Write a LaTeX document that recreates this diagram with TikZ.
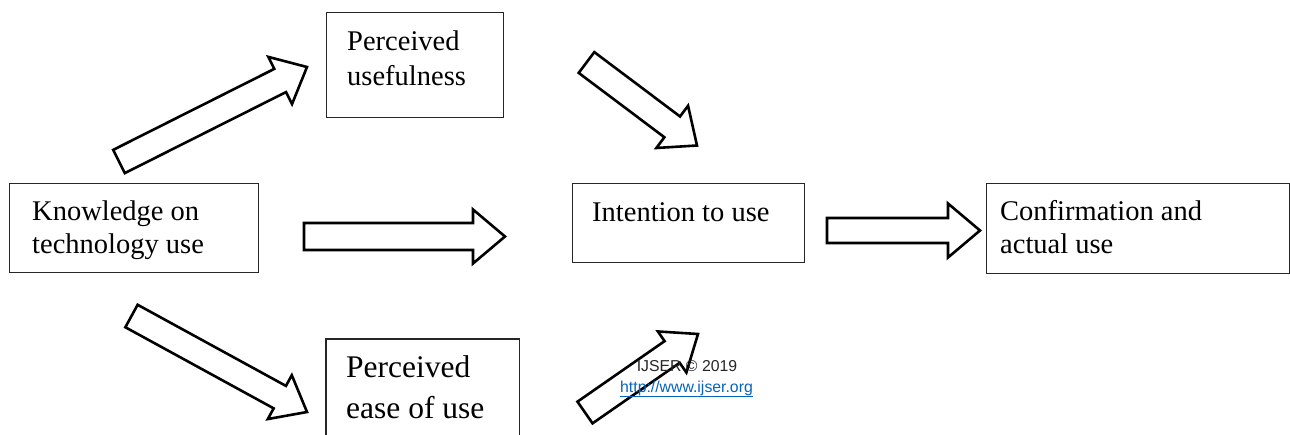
\documentclass[tikz,border=0pt]{standalone}
\usepackage{fontspec}
\setmainfont{Liberation Serif}
\newfontfamily\arialf{Liberation Sans}
\usetikzlibrary{calc}
\definecolor{linkblue}{HTML}{0563C1}
\definecolor{boxline}{HTML}{262626}
\newcommand\blockarr[5]{%
  \draw[barrow] let \p1=(#1), \p2=(#2),
    \n1={atan2(\y2-\y1,\x2-\x1)}, \n2={veclen(\x2-\x1,\y2-\y1)} in
    [shift={(\p1)}, rotate=\n1]
    (0,-#3) -- ({\n2-#5},-#3) -- ({\n2-#5},-#4) -- (\n2,0) --
    ({\n2-#5},#4) -- ({\n2-#5},#3) -- (0,#3) -- cycle;}
\begin{document}
\begin{tikzpicture}[x=1pt,y=-1pt,
  box/.style={draw=boxline, line width=1.4pt, inner sep=0pt, anchor=north west},
  lbl/.style={inner sep=0pt, anchor=base west, font=\fontsize{28.5}{33}\selectfont},
  barrow/.style={draw=black, fill=white, line width=2.6pt, line join=miter},
  foot/.style={inner sep=0pt, anchor=base, font=\arialf\fontsize{15.8}{18}\selectfont}]
\useasboundingbox (0,0) rectangle (1290,434);
% boxes
\node[box, minimum width=249pt, minimum height=89pt] (k) at (9,183) {};
\node[box, minimum width=177pt, minimum height=105pt] (pu) at (326,12) {};
\node[box, minimum width=232pt, minimum height=79pt] (it) at (572,183) {};
\node[box, minimum width=303pt, minimum height=90pt] (cf) at (986,183) {};
\node[inner sep=0pt, anchor=north west, minimum width=193pt, minimum height=97pt] (pe) at (326,339) {};
\draw[draw=boxline, line width=1.4pt] (pe.south west) -- (pe.north west) -- (pe.north east) -- (pe.south east);
% texts
\node[lbl] (tk) at (32,220) {\begin{tabular}[t]{@{}l@{}}Knowledge on\\technology use\end{tabular}};
\node[lbl, font=\fontsize{28.5}{35}\selectfont] (tpu) at (347,50) {\begin{tabular}[t]{@{}l@{}}Perceived\\usefulness\end{tabular}};
\node[lbl] (tit) at (592,221) {Intention to use};
\node[lbl] (tcf) at (1000,220) {\begin{tabular}[t]{@{}l@{}}Confirmation and\\actual use\end{tabular}};
\node[lbl, font=\fontsize{31.5}{41.5}\selectfont] (tpe) at (346,377) {\begin{tabular}[t]{@{}l@{}}Perceived\\ease of use\end{tabular}};
% arrow end points
\coordinate (a1t) at (119,161.5); \coordinate (a1h) at (307,67);
\coordinate (a2t) at (586.5,62.5); \coordinate (a2h) at (697,145.5);
\coordinate (a3t) at (131.5,316); \coordinate (a3h) at (307,412);
\coordinate (a4t) at (585,412.5); \coordinate (a4h) at (698,334);
\coordinate (h1t) at (304,236.5); \coordinate (h1h) at (505,236.5);
\coordinate (h2t) at (827,230.5); \coordinate (h2h) at (980,230.5);
\blockarr{a1t}{a1h}{13}{26.4}{30}
\blockarr{a2t}{a2h}{13}{26.4}{31}
\blockarr{a3t}{a3h}{12.8}{25}{31}
\blockarr{a4t}{a4h}{13.2}{25}{31.5}
\blockarr{h1t}{h1h}{13.5}{27}{32}
\blockarr{h2t}{h2h}{12.5}{27}{32}
% footer
\node[foot, text=black!85] (ij) at (687,371) {IJSER © 2019};
\node[foot, text=linkblue] (url) at (686.5,392) {\underline{http://www.ijser.org}};
\end{tikzpicture}
\end{document}
